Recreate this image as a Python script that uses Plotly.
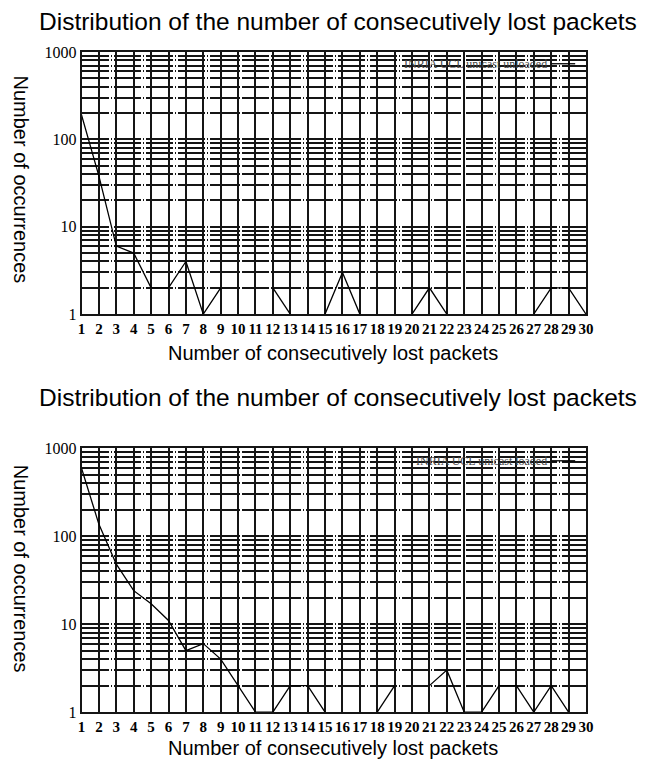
import plotly.graph_objects as go

# Burst length (number of consecutively lost packets)
burst_len = list(range(1, 31))
x_tick_text = [str(v) for v in burst_len]

# Occurrences per burst length (None = no occurrence, not drawable on log axis)
unloaded = [190, 38, 6, 5, 2, 2, 4, 1, 2, None, None, 2, 1, None, 1,
            3, 1, None, None, 1, 2, 1, None, None, None, None, 1, 2, 2, 1]
loaded = [590, 136, 48, 24, 17, 11, 5, 6, 4, 2, 1, 1, 2, 2, 1,
          None, None, 1, 2, None, 2, 3, 1, 1, 2, 2, 1, 2, 1, None]

series_names = ["INRIA UCL unicast unloaded", "INRIA UCL unicast loaded"]
plot_title = "Distribution of the number of consecutively lost packets"
x_title = "Number of consecutively lost packets"
y_title = "Number of occurrences"

# log-scale grid: 1..9, 10..90, 100..900, 1000
y_grid_vals = [m * 10 ** d for d in range(3) for m in range(1, 10)] + [1000]
y_grid_text = [str(v) if v in (1, 10, 100, 1000) else "" for v in y_grid_vals]

W, H = 645, 771
px = lambda v: v / W
py = lambda v: 1 - v / H

GRID = "#151515"
SERIF = "Liberation Serif, Times New Roman, serif"
SANS = "Liberation Sans, Arial, sans-serif"

fig = go.Figure()
fig.add_trace(go.Scatter(x=burst_len, y=unloaded, mode="lines", name=series_names[0],
                         line=dict(color="black", width=1.3), connectgaps=False,
                         xaxis="x", yaxis="y", showlegend=False))
fig.add_trace(go.Scatter(x=burst_len, y=loaded, mode="lines", name=series_names[1],
                         line=dict(color="black", width=1.3), connectgaps=False,
                         xaxis="x2", yaxis="y2", showlegend=False))

xdom = [px(79), px(593)]
panels = [  # (top px, bottom px)
    (45, 313),
    (450, 720),
]

def xaxis_cfg(anchor):
    return dict(domain=xdom, range=[1, 30], anchor=anchor,
                tickvals=burst_len, ticktext=x_tick_text, tickangle=0,
                tickfont=dict(family=SERIF, size=15, color="black", weight="bold"),
                showgrid=True, gridcolor=GRID, gridwidth=1.6,
                showline=True, linecolor=GRID, linewidth=1.6, mirror=True,
                zeroline=False, ticks="", fixedrange=True)

def yaxis_cfg(anchor, top, bottom):
    return dict(domain=[py(bottom), py(top)], type="log", range=[0, 3], anchor=anchor,
                tickvals=y_grid_vals, ticktext=y_grid_text,
                tickfont=dict(family=SERIF, size=16, color="black"),
                showgrid=True, gridcolor=GRID, gridwidth=1.6,
                griddash="27px,2px,1px,2px",
                showline=True, linecolor=GRID, linewidth=1.6, mirror=True,
                zeroline=False, ticks="", fixedrange=True)

fig.update_layout(
    width=W, height=H, autosize=False,
    margin=dict(l=0, r=0, t=0, b=0),
    paper_bgcolor="white", plot_bgcolor="white",
    xaxis=xaxis_cfg("y"), yaxis=yaxis_cfg("x", *panels[0]),
    xaxis2=xaxis_cfg("y2"), yaxis2=yaxis_cfg("x2", *panels[1]),
)

annotations = []
shapes = []
title_y = [14, 398]
xtitle_y = [353, 757]
ytitle_y = [175, 573]
legend_y = [57, 463]
for i in range(2):
    annotations.append(dict(text=plot_title, x=px(340), y=py(title_y[i]), xref="paper", yref="paper",
                            xanchor="center", yanchor="middle", showarrow=False,
                            font=dict(family=SANS, size=24.5, color="black")))
    annotations.append(dict(text=x_title, x=px(335), y=py(xtitle_y[i]), xref="paper", yref="paper",
                            xanchor="center", yanchor="middle", showarrow=False,
                            font=dict(family=SANS, size=20, color="black")))
    annotations.append(dict(text=y_title, x=px(17), y=py(ytitle_y[i]), xref="paper", yref="paper",
                            xanchor="center", yanchor="middle", showarrow=False, textangle=90,
                            font=dict(family=SANS, size=20, color="black")))
    # series key: label followed by a line sample
    annotations.append(dict(text=series_names[i], x=px(555), y=py(legend_y[i]), xref="paper", yref="paper",
                            xanchor="right", yanchor="middle", showarrow=False,
                            font=dict(family=SERIF, size=12, color="#444")))
    shapes.append(dict(type="line", xref="paper", yref="paper",
                       x0=px(558), x1=px(582), y0=py(legend_y[i]), y1=py(legend_y[i]),
                       line=dict(color="black", width=1.3)))

fig.update_layout(annotations=annotations, shapes=shapes)
fig.write_html("out.html")
